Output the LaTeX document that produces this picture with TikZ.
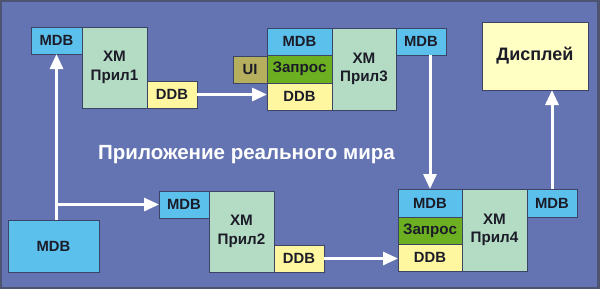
\documentclass[tikz,border=0pt]{standalone}
\usepackage{fontspec}
\setmainfont{Liberation Sans}
\usetikzlibrary{arrows.meta}
\definecolor{bgc}{HTML}{6474B2}
\definecolor{framec}{HTML}{4C5472}
\definecolor{mdbc}{HTML}{5CC0EC}
\definecolor{xmc}{HTML}{B4DCC4}
\definecolor{ddbc}{HTML}{FFF7A0}
\definecolor{dispc}{HTML}{FFFFC4}
\definecolor{zapc}{HTML}{6CB022}
\definecolor{uic}{HTML}{B5AF5E}
\definecolor{edgec}{HTML}{3C4466}
\definecolor{txtc}{HTML}{1C1C28}
\tikzset{
  box/.style={draw=edgec, line width=0.8pt, inner sep=0pt, outer sep=0pt, anchor=north west,
    text=txtc, font=\bfseries\fontsize{14.8}{18}\selectfont, align=center},
  cyr/.style={font=\bfseries\fontsize{15.2}{18.5}\selectfont},
  mdb/.style={box, fill=mdbc},
  xm/.style={box, fill=xmc, cyr},
  ddb/.style={box, fill=ddbc},
  zap/.style={box, fill=zapc, cyr},
  uibox/.style={box, fill=uic},
  disp/.style={box, fill=dispc, font=\bfseries\fontsize{18}{21}\selectfont},
  arr/.style={draw=white, line width=3pt, -{Triangle[length=15pt,width=13pt]}},
  ttl/.style={text=white, font=\bfseries\fontsize{20.5}{24}\selectfont}
}
\begin{document}
\begin{tikzpicture}[x=1pt,y=-1pt]
\useasboundingbox (0,0) rectangle (600,289);
\fill[framec] (0,0) rectangle (600,289);
\fill[bgc] (2,2) rectangle (597,287);
% group 1
\node[mdb, minimum width=51pt, minimum height=27pt] (m1) at (31,27) {MDB};
\node[xm, minimum width=65pt, minimum height=81pt] (x1) at (82,27) {XM\\Прил1};
\node[ddb, minimum width=50pt, minimum height=27pt] (d1) at (147,81) {DDB};
% group 3
\node[uibox, minimum width=34pt, minimum height=27pt] (ui) at (233,56) {UI};
\node[mdb, minimum width=65pt, minimum height=27pt] (m3) at (267,28) {MDB};
\node[zap, minimum width=65pt, minimum height=28pt] (z3) at (267,55) {Запрос};
\node[ddb, minimum width=65pt, minimum height=27pt] (d3) at (267,83) {DDB};
\node[xm, minimum width=64pt, minimum height=82pt] (x3) at (332,28) {XM\\Прил3};
\node[mdb, minimum width=50pt, minimum height=27pt] (m3o) at (396,28) {MDB};
% display
\node[disp, minimum width=106pt, minimum height=68pt] (dsp) at (482,22) {Дисплей};
% title
\node[ttl] (t) at (246.5,155) {Приложение реального мира};
% big mdb
\node[mdb, minimum width=91pt, minimum height=52pt] (big) at (8,220) {MDB};
% group 2
\node[mdb, minimum width=50pt, minimum height=27pt] (m2) at (159,191) {MDB};
\node[xm, minimum width=65pt, minimum height=81pt] (x2) at (209,191) {XM\\Прил2};
\node[ddb, minimum width=50pt, minimum height=27pt] (d2) at (274,245) {DDB};
% group 4
\node[mdb, minimum width=64pt, minimum height=28pt] (m4) at (398,189) {MDB};
\node[zap, minimum width=64pt, minimum height=27pt] (z4) at (398,217) {Запрос};
\node[ddb, minimum width=64pt, minimum height=27pt] (d4) at (398,244) {DDB};
\node[xm, minimum width=65pt, minimum height=82pt] (x4) at (462,189) {XM\\Прил4};
\node[mdb, minimum width=50pt, minimum height=28pt] (m4o) at (527,189) {MDB};
% arrows
\draw[arr] (m1.south |- big.north) -- (m1.south);
\draw[arr] (m1.south |- m2.west) -- (m2.west);
\draw[arr] (d1.east) -- (d3.west |- d1.east);
\draw[arr] (m4.north |- m3o.south) -- (m4.north);
\draw[arr] (m4o.north) -- (m4o.north |- dsp.south);
\draw[arr] (d2.east) -- (d4.west |- d2.east);
\end{tikzpicture}
\end{document}
